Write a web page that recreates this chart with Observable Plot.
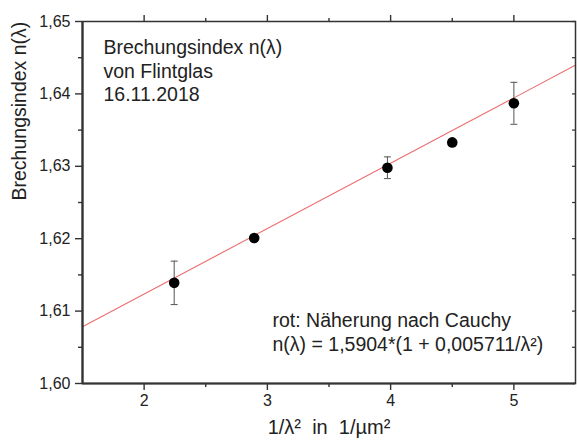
<!DOCTYPE html>
<html><head><meta charset="utf-8">
<script src="https://cdn.jsdelivr.net/npm/d3@7"></script>
<script src="https://cdn.jsdelivr.net/npm/@observablehq/plot@0.6"></script>
<style>body{margin:0;background:#fff} svg{white-space:pre}</style>
</head><body><div id="chart"></div>
<script>
// measured data
const xValues = [2.244, 2.893, 3.974, 4.50, 5.00];      // 1/λ² in 1/µm²
const nValues = [1.6139, 1.6201, 1.6298, 1.6333, 1.6387];
const nErrors = [0.0030, 0, 0.0015, 0, 0.0029];
// fitted line as drawn (red)
const fitIntercept = 1.5943;
const fitSlope = 0.00903;
// axes
const xDomain = [1.5, 5.5];
const yDomain = [1.60, 1.65];
const xMajor = [2, 3, 4, 5];
const xMinor = [2.5, 3.5, 4.5];
const yMajor = [1.60, 1.61, 1.62, 1.63, 1.64, 1.65];
const yMinor = [1.605, 1.615, 1.625, 1.635, 1.645];
// texts
const titleLines = "Brechungsindex n(λ)\nvon Flintglas\n16.11.2018";
const noteLines = "rot: Näherung nach Cauchy\nn(λ) = 1,5904*(1 + 0,005711/λ²)";
const xLabel = "1/λ²  in  1/µm²";
const yLabel = "Brechungsindex n(λ)";

const points = xValues.map((x, i) => ({x, n: nValues[i], err: nErrors[i], lo: nValues[i] - nErrors[i], hi: nValues[i] + nErrors[i]}));
const errPoints = points.filter(d => d.err > 0);
const fitLine = xDomain.map(x => ({x, n: fitIntercept + fitSlope * x}));
const comma = d => d3.format(".2f")(d).replace(".", ",");
const capSymbol = {draw(ctx, size) { const r = Math.sqrt(size / Math.PI); ctx.moveTo(-r, 0); ctx.lineTo(r, 0); }};
const axisColor = "#333";

const chart = Plot.plot({
  width: 577, height: 444,
  marginLeft: 82, marginRight: 2, marginTop: 21, marginBottom: 61,
  style: {fontFamily: "'Liberation Sans', Arial, sans-serif", color: "#222", background: "#fff"},
  x: {domain: xDomain},
  y: {domain: yDomain},
  marks: [
    Plot.line(fitLine, {x: "x", y: "n", stroke: "#ec6c6e", strokeWidth: 1.1, clip: true}),
    Plot.ruleX(errPoints, {x: "x", y1: "lo", y2: "hi", stroke: "#555", strokeWidth: 1}),
    Plot.dot(errPoints, {x: "x", y: "lo", symbol: capSymbol, r: 3.5, stroke: "#555", fill: "none", strokeWidth: 1}),
    Plot.dot(errPoints, {x: "x", y: "hi", symbol: capSymbol, r: 3.5, stroke: "#555", fill: "none", strokeWidth: 1}),
    Plot.dot(points, {x: "x", y: "n", r: 5.3, fill: "#000"}),
    Plot.frame({stroke: axisColor, strokeWidth: 1.5}),
    Plot.ruleX([xDomain[0]], {stroke: axisColor, strokeWidth: 2.2}),
    Plot.ruleY([yDomain[0]], {stroke: axisColor, strokeWidth: 2.2}),
    // left axis
    Plot.axisY({ticks: yMajor, tickSize: 7, tickPadding: 5, tickFormat: comma, fontSize: 16, stroke: axisColor, strokeWidth: 1.4, label: null}),
    Plot.axisY({ticks: yMinor, tickSize: 4, tickFormat: () => "", stroke: axisColor, strokeWidth: 1.4, label: null}),
    // bottom axis
    Plot.axisX({ticks: xMajor, tickSize: 7, tickPadding: 4, tickFormat: d3.format("d"), fontSize: 16, stroke: axisColor, strokeWidth: 1.4, label: null}),
    Plot.axisX({ticks: xMinor, tickSize: 4, tickFormat: () => "", stroke: axisColor, strokeWidth: 1.4, label: null}),
    // top axis
    Plot.axisX({anchor: "top", ticks: xMajor, tickSize: 7, tickFormat: () => "", stroke: axisColor, strokeWidth: 1.4, label: null}),
    Plot.axisX({anchor: "top", ticks: xMinor, tickSize: 4, tickFormat: () => "", stroke: axisColor, strokeWidth: 1.4, label: null}),
    // right axis (inward)
    Plot.axisY({anchor: "right", ticks: yMajor.concat(yMinor), tickSize: -4, tickFormat: () => "", stroke: axisColor, strokeWidth: 1.2, label: null}),
    // labels
    Plot.text([xLabel], {frameAnchor: "bottom", dy: 50, fontSize: 20, fill: "#222"}),
    Plot.text([yLabel], {frameAnchor: "left", rotate: -90, dx: -63, dy: -2, fontSize: 19.5, fill: "#222"}),
    Plot.text([titleLines], {frameAnchor: "top-left", dx: 21, dy: 16, textAnchor: "start", lineAnchor: "top", lineHeight: 1.2, fontSize: 19.5, fill: "#222"}),
    Plot.text([noteLines], {frameAnchor: "bottom-left", dx: 190, dy: -33, textAnchor: "start", lineAnchor: "bottom", lineHeight: 1.22, fontSize: 19.5, fill: "#222"})
  ]
});
document.getElementById("chart").appendChild(chart);
</script>
</body></html>
